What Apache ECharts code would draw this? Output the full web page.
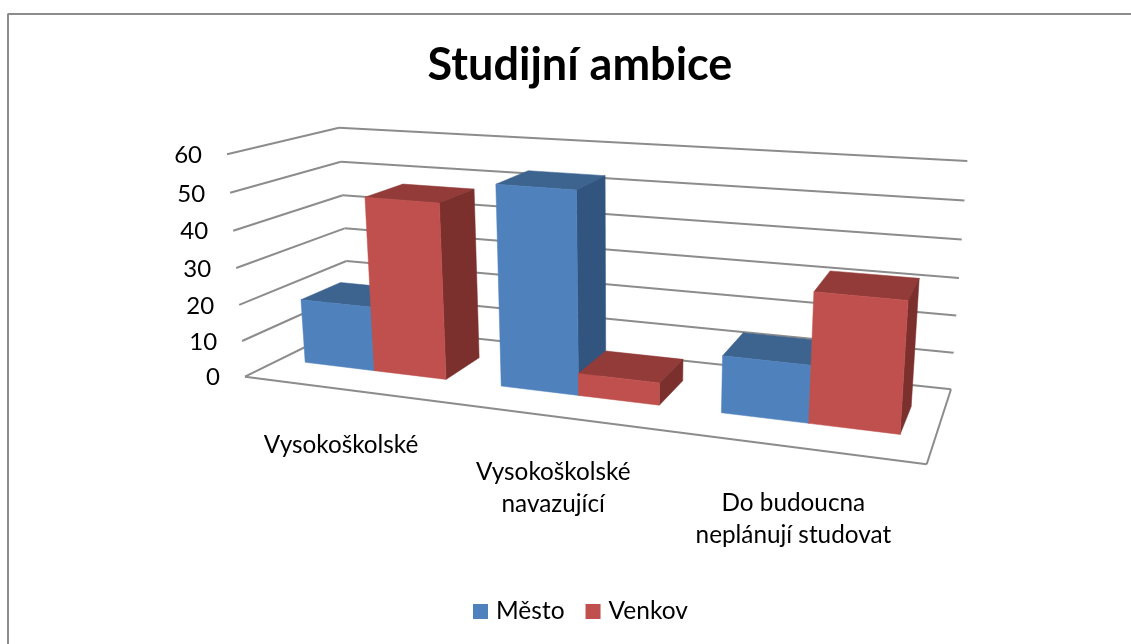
<!DOCTYPE html>
<html><head><meta charset="utf-8">
<style>html,body{margin:0;padding:0;background:#fff}#c{width:1131px;height:644px}</style>
<script src="https://cdn.jsdelivr.net/npm/echarts@6/dist/echarts.min.js"></script>
</head><body><div id="c"></div>
<script>
const categories = ['Vysokoškolské', 'Vysokoškolské\nnavazující', 'Do budoucna\nneplánují studovat'];
const mesto = [18, 54, 15];
const venkov = [48, 6, 33.5];
const yTicks = [0, 10, 20, 30, 40, 50, 60];
const seriesNames = ['Město', 'Venkov'];
const FONT = 'Lato';

// Projective box: [u, v, d] -> screen; corners of the 3D chart box
const corners = {
  '000': [245, 376.7], '010': [227, 154.3], '001': [350, 325], '011': [339, 127.7],
  '100': [926.7, 464.3], '110': [943.5, 207], '101': [951, 389.3], '111': [967.3, 161]
};
const wA = -0.17, wB = -0.045, wC = 0.13;
function project(u, v, d) {
  let sx = 0, sy = 0, sw = 0;
  for (const a of [0, 1]) for (const b of [0, 1]) for (const c of [0, 1]) {
    const k = (a ? u : 1 - u) * (b ? v : 1 - v) * (c ? d : 1 - d);
    const w = k * (1 + wA * a + wB * b + wC * c);
    const p = corners['' + a + b + c];
    sx += w * p[0]; sy += w * p[1]; sw += w;
  }
  return [sx / sw, sy / sw];
}
const barShare = 0.365, dFront = 0.31, dBack = 0.69;
const shades = [
  { front: '#4F81BD', top: '#3D638F', side: '#32557F' },
  { front: '#C0504D', top: '#923B38', side: '#7B302E' }
];
const GRID = '#8C8C8C';

function face(pts, fill) {
  return { type: 'polygon', shape: { points: pts }, style: { fill: fill, stroke: fill, lineWidth: 0.5 } };
}
function line(a, b) {
  return { type: 'line', shape: { x1: a[0], y1: a[1], x2: b[0], y2: b[1] }, style: { stroke: GRID, lineWidth: 2, fill: null } };
}
function barRenderer(si) {
  return function (params, api) {
    const cs = params.coordSys;
    const top = api.coord([api.value(0), api.value(1)]);
    const band = api.size([1, 0])[0] / cs.width;
    const uc = (top[0] - cs.x) / cs.width;
    const v = (cs.y + cs.height - top[1]) / cs.height;
    const u0 = uc + (si - 1) * barShare * band, u1 = u0 + barShare * band;
    const P = project, s = shades[si];
    return { type: 'group', children: [
      face([P(u0, v, dFront), P(u1, v, dFront), P(u1, v, dBack), P(u0, v, dBack)], s.top),
      face([P(u1, 0, dFront), P(u1, 0, dBack), P(u1, v, dBack), P(u1, v, dFront)], s.side),
      face([P(u0, 0, dFront), P(u1, 0, dFront), P(u1, v, dFront), P(u0, v, dFront)], s.front)
    ]};
  };
}
function barData(vals) { return vals.map((v, i) => [i, v]); }

const option = {
  animation: false,
  backgroundColor: '#fff',
  title: { text: 'Studijní ambice', left: 575, top: 38, textAlign: 'center',
    textStyle: { fontFamily: FONT, fontWeight: 'bold', fontSize: 45, color: '#000' } },
  legend: { data: seriesNames, left: 473, top: 599, padding: 0, itemWidth: 15, itemHeight: 15, itemGap: 21, icon: 'rect',
    textStyle: { fontFamily: FONT, fontSize: 24.5, color: '#000', padding: [0, 0, 0, 3] } },
  grid: { left: 100, right: 100, top: 100, bottom: 100 },
  xAxis: { type: 'category', data: categories, show: false },
  yAxis: { type: 'value', min: 0, max: 60, interval: 10, show: false },
  graphic: [
    { type: 'line', shape: { x1: 7.5, y1: 14, x2: 1131, y2: 14 }, style: { stroke: '#8C8C8C', lineWidth: 2 } },
    { type: 'line', shape: { x1: 8, y1: 14, x2: 8, y2: 644 }, style: { stroke: '#8C8C8C', lineWidth: 2 } }
  ],
  series: [
    { name: 'walls', type: 'custom', silent: true, z: 1, data: yTicks.map(t => [0, t]),
      renderItem(params, api) {
        const cs = params.coordSys;
        const py = api.coord([0, api.value(1)])[1];
        const v = (cs.y + cs.height - py) / cs.height;
        const a = project(0, v, 0), b = project(0, v, 1), c = project(1, v, 1);
        const ch = [line(a, b), line(b, c)];
        ch.push({ type: 'text', style: { text: String(api.value(1)), x: a[0] - 25, y: a[1] + 1,
          align: 'right', verticalAlign: 'middle', fontFamily: FONT, fontSize: 24, fill: '#000' } });
        if (api.value(1) === 0) {
          const e = project(1, 0, 0);
          ch.push(line(a, e), line(e, c));
        }
        return { type: 'group', children: ch };
      } },
    { name: 'catLabels', type: 'custom', silent: true, z: 1, data: categories.map((c, i) => [i, 0]),
      renderItem(params, api) {
        const cs = params.coordSys;
        const i = api.value(0);
        const u = (api.coord([i, 0])[0] - cs.x) / cs.width;
        const p = project(u, 0, 0);
        return { type: 'text', style: { text: categories[i], x: p[0] - 1, y: p[1] + 40,
          align: 'center', verticalAlign: 'top', fontFamily: FONT, fontSize: 24.3, lineHeight: 32, fill: '#000' } };
      } },
    { name: seriesNames[0], type: 'custom', z: 2, itemStyle: { color: shades[0].front }, data: barData(mesto), renderItem: barRenderer(0) },
    { name: seriesNames[1], type: 'custom', z: 3, itemStyle: { color: shades[1].front }, data: barData(venkov), renderItem: barRenderer(1) }
  ]
};
echarts.init(document.getElementById('c'), null, { renderer: 'canvas' }).setOption(option);
</script></body></html>
